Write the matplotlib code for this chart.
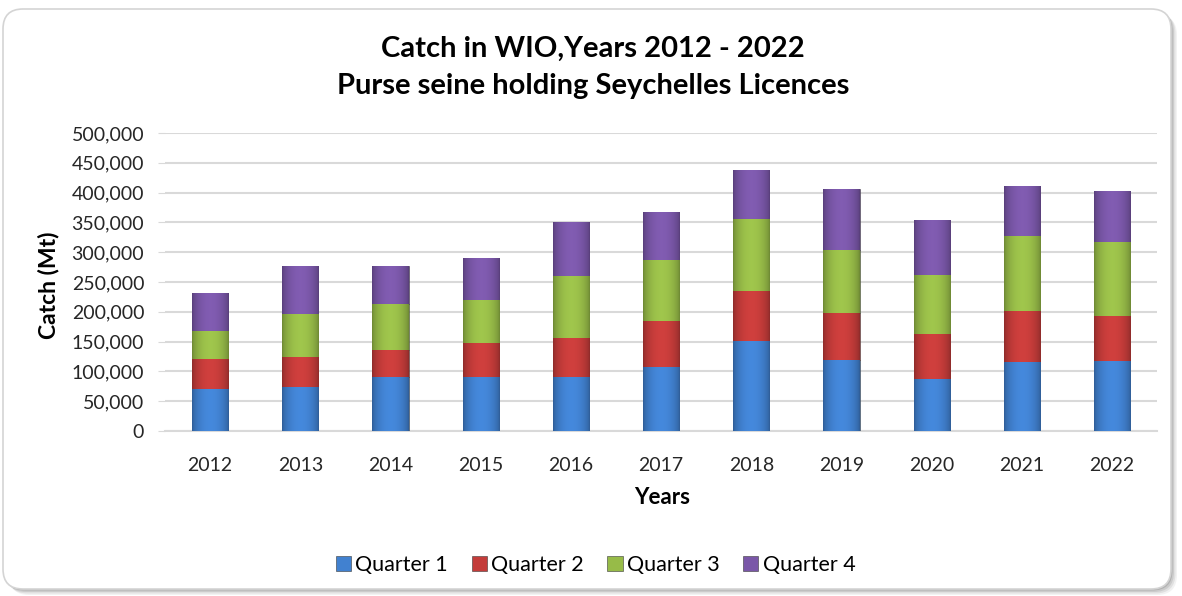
import numpy as np
import matplotlib
matplotlib.use("Agg")
import matplotlib.pyplot as plt
from matplotlib.patches import FancyBboxPatch
from matplotlib.ticker import FuncFormatter
from matplotlib.colors import to_rgb

plt.rcParams["font.family"] = ["Lato", "DejaVu Sans"]

# catch per quarter (Mt)
years = ["2012", "2013", "2014", "2015", "2016", "2017", "2018", "2019", "2020", "2021", "2022"]
q1 = [71000, 73000, 91000, 91000, 91000, 108000, 151000, 119000, 87000, 116000, 117500]
q2 = [49000, 51000, 45000, 56000, 64500, 76600, 83000, 79500, 76000, 86000, 75500]
q3 = [48000, 72000, 77000, 73000, 104500, 102400, 122000, 105500, 99000, 125700, 123600]
q4 = [63000, 81000, 64000, 70000, 91000, 80000, 82000, 102000, 91500, 84000, 86000]
labels = ["Quarter 1", "Quarter 2", "Quarter 3", "Quarter 4"]
colors = ["#4181D0", "#C43C3A", "#97BB48", "#7A57A8"]

fig = plt.figure(figsize=(11.82, 5.96), dpi=100)

# rounded frame with a soft shadow
for i, a in enumerate([0.05, 0.07, 0.09, 0.12]):
    off = 0.06 - i * 0.015
    fig.patches.append(FancyBboxPatch((0.03 + off, 0.07 - off), 11.68, 5.80,
                                      boxstyle="round,pad=0,rounding_size=0.2",
                                      transform=fig.dpi_scale_trans, facecolor="black",
                                      edgecolor="none", alpha=a, zorder=-2))
fig.patches.append(FancyBboxPatch((0.03, 0.07), 11.68, 5.80,
                                  boxstyle="round,pad=0,rounding_size=0.2",
                                  transform=fig.dpi_scale_trans, facecolor="white",
                                  edgecolor="#D4D4D4", linewidth=1.2, zorder=-1))

ax = fig.add_axes([0.1396, 0.277, 0.8394, 0.500])
ax.set_facecolor("none")
ax.set_zorder(2)

x = np.arange(len(years))
bottom = np.zeros(len(years))
grad = np.sin(np.linspace(0, np.pi, 64)) ** 0.6
for vals, lab, col in zip([q1, q2, q3, q4], labels, colors):
    bars = ax.bar(x, vals, 0.4, bottom=bottom, color=col, edgecolor="#3a3a3a",
                  linewidth=0.4, label=lab, zorder=3)
    # horizontal shading to hint at the bevelled look
    base = np.array(to_rgb(col))
    img = np.clip(base[None, None, :] * (0.72 + 0.34 * grad)[None, :, None], 0, 1)
    for r in bars:
        bx, by, bw, bh = r.get_x(), r.get_y(), r.get_width(), r.get_height()
        im = ax.imshow(img, extent=(bx, bx + bw, by, by + bh), aspect="auto",
                       zorder=3.5, interpolation="bilinear")
        im.set_clip_path(r)
    bottom += np.array(vals)

ax.set_xlim(-0.5, len(years) - 0.5)
ax.set_ylim(0, 500000)
ax.set_yticks(np.arange(0, 500001, 50000))
ax.yaxis.set_major_formatter(FuncFormatter(lambda v, p: f"{int(v):,}"))
ax.set_xticks(x)
ax.set_xticklabels(years)
ax.grid(axis="y", color="#D9D9D9", linewidth=1.5, zorder=0)
ax.set_axisbelow(True)
for s in ["top", "right", "left"]:
    ax.spines[s].set_visible(False)
ax.spines["bottom"].set_color("#D9D9D9")
ax.spines["bottom"].set_linewidth(1.5)
ax.tick_params(axis="y", length=5, color="#D9D9D9", labelsize=14, labelcolor="#262626", pad=10)
ax.tick_params(axis="x", length=0, labelsize=14, labelcolor="#262626", pad=19)

fig.text(0.041, 0.522, "Catch (Mt)", rotation=90, ha="center", va="center",
         fontsize=16.5, fontweight="bold")
fig.text(0.56, 0.166, "Years", ha="center", va="center", fontsize=16, fontweight="bold")
fig.text(0.502, 0.887, "Catch in WIO,Years 2012 - 2022\nPurse seine holding Seychelles Licences",
         ha="center", va="center", fontsize=21, fontweight="bold", linespacing=1.55)

fig.legend(loc="center", bbox_to_anchor=(0.504, 0.052), ncol=4, frameon=False,
           fontsize=15.5, handlelength=0.7, handleheight=0.7, handletextpad=0.2,
           columnspacing=1.1)

fig.savefig("out.png", dpi=100)
